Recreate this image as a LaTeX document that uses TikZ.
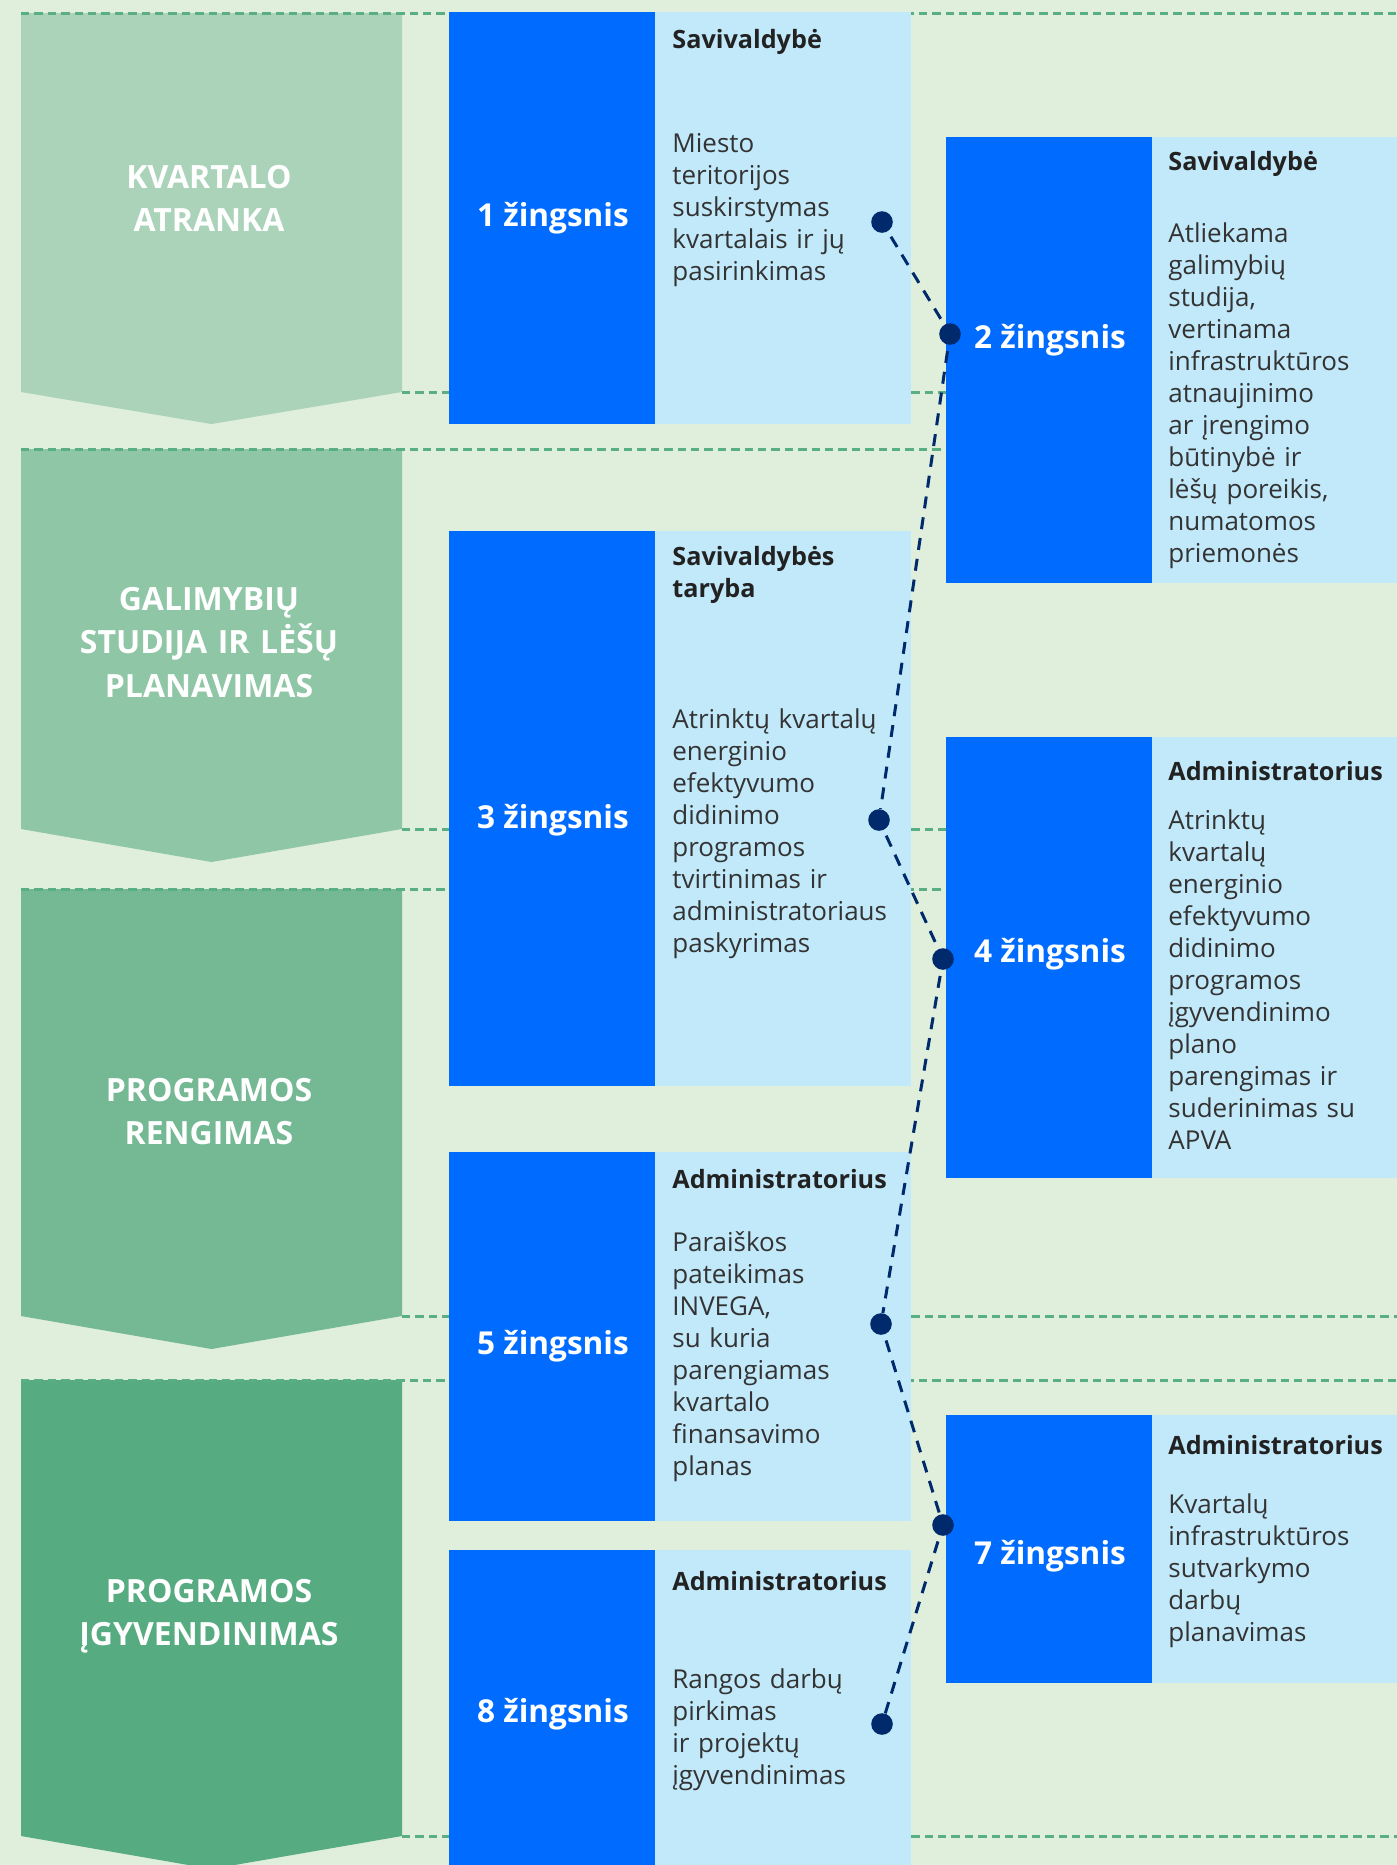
\documentclass[tikz,border=0pt]{standalone}
\usepackage{fontspec}
\setmainfont{Open Sans}
\definecolor{bgc}{HTML}{E0EEDC}
\definecolor{chA}{HTML}{AAD3B9}
\definecolor{chB}{HTML}{8EC6A6}
\definecolor{chC}{HTML}{75B994}
\definecolor{chD}{HTML}{57AB81}
\definecolor{gline}{HTML}{5AAE84}
\definecolor{stepblue}{HTML}{006CFF}
\definecolor{lightb}{HTML}{C2E9FA}
\definecolor{navy}{HTML}{002A6B}
\definecolor{headc}{HTML}{222222}
\definecolor{bodyc}{HTML}{333333}
\begin{document}
\begin{tikzpicture}[x=0.5pt,y=-0.5pt,
  gdash/.style={draw=gline, line width=1.5pt, dash pattern=on 4.2pt off 2.5pt},
  bluebox/.style={fill=stepblue},
  lightbox/.style={fill=lightb},
  steplabel/.style={font=\bfseries\fontsize{15.8}{18}\selectfont, text=white, anchor=base, inner sep=0pt},
  headtext/.style={font=\bfseries\fontsize{12.6}{16}\selectfont, text=headc, anchor=base west, inner sep=0pt, text width=140pt, align=left},
  bodytext/.style={font=\fontsize{13}{16}\selectfont, text=bodyc, anchor=base west, inner sep=0pt, text width=140pt, align=left},
  chevtext/.style={font=\bfseries\fontsize{16}{21.75}\selectfont, text=white, anchor=base, inner sep=0pt, text width=180pt, align=center},
  dotnode/.style={circle, fill=navy, minimum size=10.8pt, inner sep=0pt},
  conn/.style={draw=navy, line width=1.5pt, dash pattern=on 6pt off 4.5pt, dash phase=-3pt}
]
\useasboundingbox (0,0) rectangle (1397,1865);
\fill[bgc] (0,0) rectangle (1397,1865);

% chevrons
\fill[chA] (21,13) -- (402,13) -- (402,392) -- (211.5,424) -- (21,392) -- cycle;
\fill[chB] (21,449) -- (402,449) -- (402,829) -- (211.5,862) -- (21,829) -- cycle;
\fill[chC] (21,889) -- (402,889) -- (402,1316) -- (211.5,1349) -- (21,1316) -- cycle;
\fill[chD] (21,1380) -- (402,1380) -- (402,1836) -- (211.5,1869) -- (21,1836) -- cycle;

% dashed guide lines
\foreach \y in {13,449,889,1380} \draw[gdash] (21,\y) -- (1397,\y);
\foreach \y in {392,829,1316,1836} \draw[gdash] (402,\y) -- (1397,\y);

% step boxes column A
\fill[bluebox] (449,12) rectangle (655,424);   \fill[lightbox] (655,12) rectangle (911,424);
\fill[bluebox] (449,531) rectangle (655,1086); \fill[lightbox] (655,531) rectangle (911,1086);
\fill[bluebox] (449,1152) rectangle (655,1521);\fill[lightbox] (655,1152) rectangle (911,1521);
\fill[bluebox] (449,1550) rectangle (655,1865);\fill[lightbox] (655,1550) rectangle (911,1865);
% step boxes column B
\fill[bluebox] (946,137) rectangle (1152,583);  \fill[lightbox] (1152,137) rectangle (1397,583);
\fill[bluebox] (946,737) rectangle (1152,1178); \fill[lightbox] (1152,737) rectangle (1397,1178);
\fill[bluebox] (946,1415) rectangle (1152,1683);\fill[lightbox] (1152,1415) rectangle (1397,1683);

% chevron texts
\node[chevtext] (c1) at (209,188) {KVARTALO\\ATRANKA};
\node[chevtext] (c2) at (209,610) {GALIMYBIŲ\\STUDIJA IR LĖŠŲ\\PLANAVIMAS};
\node[chevtext] (c3) at (209,1101) {PROGRAMOS\\RENGIMAS};
\node[chevtext] (c4) at (209,1602) {PROGRAMOS\\ĮGYVENDINIMAS};

% step labels
\node[steplabel] (s1) at (553,226.5) {1 žingsnis};
\node[steplabel] (s2) at (1050,348) {2 žingsnis};
\node[steplabel] (s3) at (553,828) {3 žingsnis};
\node[steplabel] (s4) at (1050,962) {4 žingsnis};
\node[steplabel] (s5) at (553,1354) {5 žingsnis};
\node[steplabel] (s7) at (1050,1564) {7 žingsnis};
\node[steplabel] (s8) at (553,1722) {8 žingsnis};

% headings and bodies
\node[headtext] (h1) at (672,48) {Savivaldybė};
\node[bodytext] (b1) at (672,152) {Miesto\\teritorijos\\suskirstymas\\kvartalais ir jų\\pasirinkimas};
\node[headtext] (h2) at (1168,170) {Savivaldybė};
\node[bodytext] (b2) at (1168,242) {Atliekama\\galimybių\\studija,\\vertinama\\infrastruktūros\\atnaujinimo\\ar įrengimo\\būtinybė ir\\lėšų poreikis,\\numatomos\\priemonės};
\node[headtext] (h3) at (672,565) {Savivaldybės\\taryba};
\node[bodytext] (b3) at (672,728) {Atrinktų kvartalų\\energinio\\efektyvumo\\didinimo\\programos\\tvirtinimas ir\\administratoriaus\\paskyrimas};
\node[headtext] (h4) at (1168,780) {Administratorius};
\node[bodytext] (b4) at (1168,829) {Atrinktų\\kvartalų\\energinio\\efektyvumo\\didinimo\\programos\\įgyvendinimo\\plano\\parengimas ir\\suderinimas su\\APVA};
\node[headtext] (h5) at (672,1188) {Administratorius};
\node[bodytext] (b5) at (672,1251) {Paraiškos\\pateikimas\\INVEGA,\\su kuria\\parengiamas\\kvartalo\\finansavimo\\planas};
\node[headtext] (h7) at (1168,1454) {Administratorius};
\node[bodytext] (b7) at (1168,1513) {Kvartalų\\infrastruktūros\\sutvarkymo\\darbų\\planavimas};
\node[headtext] (h8) at (672,1590) {Administratorius};
\node[bodytext] (b8) at (672,1688) {Rangos darbų\\pirkimas\\ir projektų\\įgyvendinimas};

% dots and connector
\node[dotnode] (d1) at (882,222) {};
\node[dotnode] (d2) at (950,334) {};
\node[dotnode] (d3) at (879,820) {};
\node[dotnode] (d4) at (943,959) {};
\node[dotnode] (d5) at (881,1324) {};
\node[dotnode] (d7) at (943,1525) {};
\node[dotnode] (d8) at (882,1724) {};
\draw[conn] (d1) -- (d2);
\draw[conn] (d2) -- (d3);
\draw[conn] (d3) -- (d4);
\draw[conn] (d4) -- (d5);
\draw[conn] (d5) -- (d7);
\draw[conn] (d7) -- (d8);
\end{tikzpicture}
\end{document}
